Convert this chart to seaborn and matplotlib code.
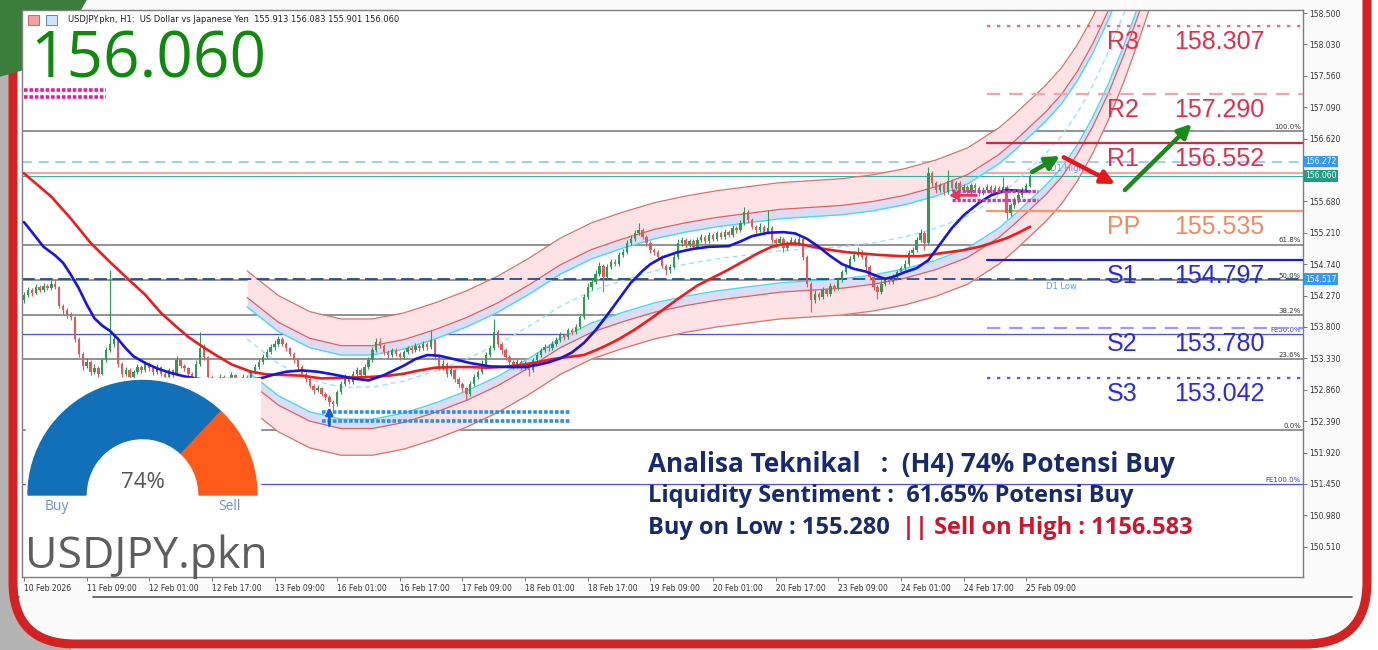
"""
USDJPY H1 - analisa teknikal
"""
import numpy as np
import seaborn as sns
import matplotlib
matplotlib.use("Agg")
import matplotlib.pyplot as plt
from matplotlib.patches import FancyBboxPatch, Wedge, Rectangle, Polygon
import matplotlib.transforms as mtransforms

# ---------------- data ----------------
first_open = 154.20
closes = [
    154.28, 154.36, 154.31, 154.40, 154.35, 154.42, 154.38, 154.45, 154.40, 154.12,
    154.05, 153.98, 153.95, 153.62, 153.40, 153.22, 153.28, 153.12, 153.18, 153.10,
    153.30, 153.45, 153.55, 153.62, 153.25, 153.10, 153.15, 153.05, 153.12, 153.20,
    153.15, 153.25, 153.18, 153.12, 153.20, 153.10, 153.05, 153.15, 153.08, 153.30,
    153.22, 153.18, 153.10, 153.05, 153.25, 153.48, 153.35, 153.05, 153.00, 152.95,
    153.05, 153.02, 152.98, 153.08, 153.00, 152.95, 153.05, 153.02, 153.12, 153.20,
    153.28, 153.35, 153.42, 153.50, 153.55, 153.62, 153.55, 153.48, 153.40, 153.30,
    153.20, 153.10, 153.02, 152.92, 152.85, 152.88, 152.80, 152.75, 152.68, 152.65,
    152.82, 152.95, 153.05, 152.98, 153.10, 153.15, 153.08, 153.20, 153.30, 153.45,
    153.58, 153.52, 153.42, 153.38, 153.45, 153.40, 153.35, 153.42, 153.48, 153.45,
    153.52, 153.48, 153.55, 153.50, 153.60, 153.35, 153.20, 153.25, 153.10, 153.15,
    153.02, 152.95, 152.88, 152.80, 152.95, 153.05, 153.12, 153.25, 153.38, 153.48,
    153.72, 153.55, 153.45, 153.35, 153.28, 153.22, 153.28, 153.20, 153.25, 153.15,
    153.30, 153.38, 153.45, 153.50, 153.48, 153.55, 153.60, 153.68, 153.65, 153.75,
    153.72, 153.80, 153.95, 154.25, 154.40, 154.48, 154.60, 154.72, 154.55, 154.70,
    154.78, 154.75, 154.88, 154.92, 155.05, 155.12, 155.20, 155.25, 155.15, 155.05,
    154.95, 154.92, 154.85, 154.72, 154.65, 154.70, 154.85, 155.05, 155.10, 155.02,
    155.08, 155.00, 155.10, 155.15, 155.08, 155.18, 155.12, 155.20, 155.15, 155.22,
    155.18, 155.28, 155.25, 155.35, 155.52, 155.40, 155.30, 155.25, 155.30, 155.22,
    155.28, 155.10, 155.05, 155.12, 154.98, 155.05, 155.10, 155.05, 155.12, 154.85,
    154.45, 154.20, 154.30, 154.25, 154.35, 154.30, 154.42, 154.38, 154.50, 154.62,
    154.70, 154.82, 154.88, 154.92, 154.85, 154.70, 154.55, 154.40, 154.32, 154.45,
    154.50, 154.48, 154.55, 154.62, 154.68, 154.75, 154.90, 154.95, 155.10, 155.20,
    155.05, 156.10, 155.95, 155.85, 155.92, 155.82, 155.98, 155.88, 155.95, 155.85,
    155.90, 155.82, 155.92, 155.88, 155.80, 155.85, 155.90, 155.82, 155.88, 155.85,
    155.90, 155.50, 155.62, 155.70, 155.78, 155.85, 155.913, 156.06,
]
highs = [
    154.33, 154.40, 154.39, 154.45, 154.43, 154.46, 154.45, 154.50, 154.52, 154.42,
    154.15, 154.08, 154.02, 153.97, 153.65, 153.43, 153.33, 153.30, 153.24, 153.21,
    153.34, 153.50, 154.65, 153.70, 153.65, 153.28, 153.20, 153.18, 153.16, 153.24,
    153.23, 153.29, 153.27, 153.20, 153.24, 153.22, 153.13, 153.19, 153.17, 153.36,
    153.33, 153.25, 153.20, 153.12, 153.30, 153.72, 153.55, 153.37, 153.08, 153.03,
    153.09, 153.08, 153.05, 153.12, 153.10, 153.03, 153.09, 153.08, 153.16, 153.25,
    153.32, 153.40, 153.47, 153.55, 153.60, 153.67, 153.65, 153.58, 153.50, 153.43,
    153.33, 153.23, 153.13, 153.05, 152.95, 152.93, 152.90, 152.83, 152.78, 152.71,
    152.86, 152.99, 153.10, 153.08, 153.14, 153.20, 153.18, 153.24, 153.35, 153.50,
    153.63, 153.64, 153.55, 153.46, 153.49, 153.48, 153.43, 153.46, 153.52, 153.51,
    153.56, 153.55, 153.59, 153.58, 153.75, 153.62, 153.38, 153.30, 153.27, 153.20,
    153.17, 153.05, 152.98, 152.90, 152.99, 153.09, 153.16, 153.30, 153.42, 153.53,
    153.92, 153.75, 153.58, 153.48, 153.38, 153.31, 153.32, 153.30, 153.29, 153.27,
    153.34, 153.42, 153.49, 153.55, 153.54, 153.59, 153.65, 153.72, 153.71, 153.79,
    153.78, 153.85, 154.00, 154.30, 154.46, 154.53, 154.66, 154.78, 154.75, 154.74,
    154.82, 154.82, 154.92, 154.97, 155.10, 155.17, 155.25, 155.35, 155.28, 155.18,
    155.08, 154.98, 154.95, 154.88, 154.75, 154.74, 154.89, 155.12, 155.15, 155.13,
    155.12, 155.11, 155.14, 155.19, 155.18, 155.22, 155.21, 155.24, 155.23, 155.26,
    155.25, 155.32, 155.31, 155.40, 155.60, 155.55, 155.43, 155.33, 155.35, 155.33,
    155.55, 155.31, 155.13, 155.16, 155.15, 155.09, 155.14, 155.13, 155.16, 155.14,
    154.88, 154.48, 154.35, 154.33, 154.40, 154.38, 154.46, 154.45, 154.55, 154.66,
    154.75, 154.86, 154.93, 155.00, 154.95, 154.88, 154.73, 154.58, 154.43, 154.50,
    154.55, 154.54, 154.59, 154.66, 154.72, 154.80, 154.95, 155.00, 155.15, 155.26,
    155.23, 156.20, 156.13, 155.98, 155.96, 155.95, 156.15, 156.01, 155.99, 155.98,
    155.94, 155.93, 155.96, 155.95, 155.91, 155.89, 155.94, 155.93, 155.92, 155.91,
    156.05, 155.93, 155.66, 155.75, 155.82, 155.89, 155.95, 156.083,
]
lows = [
    154.16, 154.25, 154.27, 154.29, 154.32, 154.33, 154.35, 154.36, 154.37, 154.08,
    154.00, 153.94, 153.90, 153.58, 153.35, 153.16, 153.18, 153.08, 153.09, 153.05,
    153.08, 153.27, 153.42, 153.50, 153.20, 153.05, 153.06, 153.01, 153.02, 153.10,
    153.11, 153.13, 153.14, 153.08, 153.10, 153.06, 153.01, 153.03, 153.04, 153.06,
    153.18, 153.14, 153.06, 153.00, 153.03, 153.22, 153.30, 153.00, 152.95, 152.90,
    152.92, 152.98, 152.94, 152.96, 152.96, 152.90, 152.92, 152.98, 153.00, 153.10,
    153.17, 153.25, 153.32, 153.40, 153.46, 153.52, 153.51, 153.44, 153.36, 153.26,
    153.16, 153.06, 152.98, 152.88, 152.80, 152.82, 152.76, 152.70, 152.62, 152.55,
    152.62, 152.80, 152.92, 152.94, 152.95, 153.07, 153.04, 153.05, 153.17, 153.27,
    153.42, 153.48, 153.38, 153.33, 153.35, 153.36, 153.31, 153.32, 153.39, 153.41,
    153.42, 153.44, 153.45, 153.46, 153.47, 153.30, 153.15, 153.16, 153.05, 153.06,
    152.97, 152.90, 152.83, 152.71, 152.77, 152.92, 153.02, 153.10, 153.22, 153.35,
    153.45, 153.50, 153.40, 153.30, 153.23, 153.17, 153.18, 153.15, 153.16, 153.07,
    153.12, 153.27, 153.35, 153.42, 153.44, 153.45, 153.52, 153.57, 153.61, 153.62,
    153.68, 153.69, 153.77, 153.92, 154.22, 154.36, 154.45, 154.57, 154.32, 154.52,
    154.67, 154.71, 154.72, 154.85, 154.89, 155.02, 155.09, 155.17, 155.11, 155.01,
    154.91, 154.88, 154.81, 154.68, 154.58, 154.61, 154.67, 154.82, 155.01, 154.98,
    154.99, 154.96, 154.97, 155.07, 155.04, 155.05, 155.08, 155.09, 155.11, 155.12,
    155.14, 155.15, 155.21, 155.22, 155.32, 155.36, 155.26, 155.20, 155.22, 155.18,
    155.19, 155.05, 155.00, 155.02, 154.92, 154.95, 155.02, 155.01, 155.02, 154.80,
    154.40, 154.02, 154.16, 154.20, 154.22, 154.26, 154.27, 154.34, 154.35, 154.47,
    154.59, 154.67, 154.79, 154.85, 154.81, 154.66, 154.50, 154.35, 154.22, 154.29,
    154.42, 154.44, 154.45, 154.52, 154.59, 154.65, 154.72, 154.86, 154.92, 155.07,
    154.95, 155.02, 155.90, 155.80, 155.82, 155.78, 155.79, 155.84, 155.85, 155.81,
    155.82, 155.78, 155.79, 155.84, 155.76, 155.77, 155.82, 155.78, 155.79, 155.81,
    155.82, 155.42, 155.46, 155.58, 155.66, 155.75, 155.82, 155.901,
]

# moving averages
ma_fast_idx = [0, 3, 5, 8, 10, 12, 14, 16, 18, 20, 22, 24, 26, 28, 31, 34, 37, 41, 45, 49,
               53, 57, 61, 64, 67, 71, 75, 79, 84, 88, 92, 97, 100, 103, 106, 109, 114, 119,
               124, 128, 131, 134, 137, 140, 143, 146, 149, 152, 155, 158, 160, 163, 167, 171,
               175, 180, 183, 186, 190, 194, 197, 200, 203, 206, 209, 212, 215, 218, 220, 222,
               225, 228, 231, 234, 237, 240, 244, 247, 251, 254, 257]
ma_fast = [155.37, 155.15, 155.00, 154.87, 154.76, 154.58, 154.38, 154.14, 153.93, 153.82,
           153.74, 153.62, 153.48, 153.36, 153.26, 153.18, 153.12, 153.06, 153.02, 152.99,
           152.99, 153.00, 153.04, 153.09, 153.13, 153.15, 153.13, 153.09, 153.03, 153.00,
           153.08, 153.22, 153.32, 153.38, 153.37, 153.33, 153.26, 153.21, 153.20, 153.20,
           153.23, 153.27, 153.33, 153.42, 153.56, 153.75, 153.98, 154.22, 154.46, 154.64,
           154.74, 154.84, 154.92, 154.97, 155.00, 155.01, 155.08, 155.16, 155.21, 155.22,
           155.20, 155.12, 155.00, 154.86, 154.74, 154.67, 154.63, 154.56, 154.52, 154.55,
           154.62, 154.68, 154.80, 155.04, 155.28, 155.47, 155.66, 155.77, 155.85, 155.84,
           155.83]
ma_slow_idx = [0, 4, 7, 12, 17, 22, 26, 31, 35, 39, 42, 46, 49, 53, 58, 62, 67, 71, 76, 82,
               88, 93, 97, 101, 105, 110, 114, 118, 122, 127, 131, 135, 139, 143, 146, 149,
               152, 156, 160, 164, 168, 172, 176, 180, 184, 188, 191, 194, 197, 200, 204, 210,
               218, 224, 229, 235, 240, 244, 248, 251, 254, 257]
ma_slow = [156.10, 155.90, 155.75, 155.42, 155.06, 154.77, 154.55, 154.28, 154.01, 153.80,
           153.65, 153.49, 153.38, 153.24, 153.13, 153.09, 153.08, 153.07, 153.03, 153.04,
           153.05, 153.07, 153.10, 153.15, 153.19, 153.20, 153.20, 153.19, 153.20, 153.23,
           153.27, 153.32, 153.35, 153.38, 153.45, 153.53, 153.62, 153.76, 153.92, 154.09,
           154.26, 154.42, 154.54, 154.66, 154.79, 154.92, 155.00, 155.04, 155.05, 155.02,
           154.97, 154.92, 154.88, 154.86, 154.86, 154.91, 154.95, 155.00, 155.07, 155.13,
           155.21, 155.30]

# regression channel
ch_idx = [57, 65, 73, 81, 89, 97, 105, 113, 121, 129, 137, 145, 153, 161, 169, 177, 185, 193,
          201, 209, 217, 225, 233, 241, 249, 253, 257, 261, 265, 269, 273, 277, 281, 285, 289]
ch_mid = [153.62, 153.25, 153.01, 152.90, 152.90, 152.99, 153.14, 153.32, 153.54, 153.81,
          154.11, 154.34, 154.50, 154.64, 154.74, 154.82, 154.88, 154.94, 154.97, 155.00,
          155.06, 155.15, 155.28, 155.46, 155.76, 155.96, 156.18, 156.40, 156.66, 157.00,
          157.42, 157.92, 158.50, 159.15, 159.85]
ch_width = [0.48, 0.62, 1.02]   # cyan, inner red, outer red

# pivots
pivot_names = ["R3", "R2", "R1", "PP", "S1", "S2", "S3"]
pivot_values = [158.307, 157.290, 156.552, 155.535, 154.797, 153.780, 153.042]

# fibo
fib_labels = ["100.0%", "61.8%", "50.0%", "38.2%", "23.6%", "0.0%"]
fib_prices = [156.73, 155.03, 154.50, 153.98, 153.32, 152.26]
fe_labels = ["FE50.0%", "FE100.0%"]
fe_prices = [153.69, 151.45]

d1_high = 156.272
d1_low = 154.517
last_price = 156.060

y_ticks = [158.500, 158.030, 157.560, 157.090, 156.620, 155.680, 155.210, 154.740, 154.270,
           153.800, 153.330, 152.860, 152.390, 151.920, 151.450, 150.980, 150.510]
x_tick_labels = ["10 Feb 2026", "11 Feb 09:00", "12 Feb 01:00", "12 Feb 17:00", "13 Feb 09:00",
                 "16 Feb 01:00", "16 Feb 17:00", "17 Feb 09:00", "18 Feb 01:00", "18 Feb 17:00",
                 "19 Feb 09:00", "20 Feb 01:00", "20 Feb 17:00", "23 Feb 09:00", "24 Feb 01:00",
                 "24 Feb 17:00", "25 Feb 09:00"]
x_tick_pos = [0, 16, 32, 48, 64, 80, 96, 112, 128, 144, 160, 176, 192, 208, 224, 240, 256]

buy_pct = 74

# ---------------- style ----------------
sns.set_style("white")
plt.rcParams["font.family"] = ["DejaVu Sans"]

fig = plt.figure(figsize=(13.78, 6.5), dpi=100)

# background (pixel coords)
bg = fig.add_axes([0, 0, 1, 1], zorder=0)
bg.set_xlim(0, 1378)
bg.set_ylim(650, 0)
bg.axis("off")
bg.add_patch(Rectangle((0, 0), 1378, 650, color="white"))
bg.add_patch(Rectangle((0, 60), 70, 590, color="#b3b3b3"))
bg.add_patch(FancyBboxPatch((13, -80), 1354, 724, boxstyle="round,pad=0,rounding_size=62",
                            fc="#fbfbfb", ec="#d42222", lw=6.5))
bg.add_patch(Polygon([(0, 0), (86, 0), (50, 62), (0, 76)], color="#3b7d3b"))
bg.plot([93, 1352], [597, 597], color="#555555", lw=1.2)
bg.plot([15, 19], [597, 597], color="#555555", lw=1.2)

# main chart
ax = fig.add_axes([22 / 1378, 73 / 650, 1281 / 1378, 567 / 650], zorder=2)
ax.set_facecolor("white")
ax.set_xlim(-0.5, 326.7)
ax.set_ylim(150.057, 158.545)
for s in ax.spines.values():
    s.set_color("#7d7d7d")
    s.set_linewidth(1.0)

x_end = 326.7

# fib lines
for p in fib_prices:
    ax.axhline(p, color="#8a8a8a", lw=1.3, zorder=1)
for lab, p in zip(fib_labels, fib_prices):
    ax.text(x_end - 0.5, p + 0.02, lab, ha="right", va="bottom", fontsize=5, color="#333333")
for p in fe_prices:
    ax.axhline(p, color="#5050ee", lw=0.9, zorder=1)
for lab, p in zip(fe_labels, fe_prices):
    ax.text(x_end - 0.5, p + 0.02, lab, ha="right", va="bottom", fontsize=5, color="#3a3ae0")

# D1 high / low, price lines
ax.axhline(d1_high, color="#8ec5f5", lw=1.2, ls=(0, (6, 4)), zorder=1)
ax.axhline(d1_low, color="#1f4e8c", lw=1.3, ls=(0, (7, 3)), zorder=1.5)
ax.axhline(last_price + 0.045, color="#f4a8a8", lw=1.6, zorder=1)
ax.axhline(last_price, color="#3ab0a0", lw=0.8, zorder=1.2)
ax.text(262, d1_high - 0.03, "D1 High", fontsize=6, color="#5aa0f0", va="top")
ax.text(261, d1_low - 0.05, "D1 Low", fontsize=6, color="#5aa0f0", va="top")

# regression channel
cx = np.array(ch_idx)
cm = np.array(ch_mid)
w_c, w_i, w_o = ch_width
ax.fill_between(cx, cm + w_i, cm + w_o, color="#fde2e6", lw=0, zorder=1.1)
ax.fill_between(cx, cm - w_o, cm - w_i, color="#fde2e6", lw=0, zorder=1.1)
ax.fill_between(cx, cm + w_c, cm + w_i, color="#dcdcf4", lw=0, zorder=1.1)
ax.fill_between(cx, cm - w_i, cm - w_c, color="#dcdcf4", lw=0, zorder=1.1)
for sign in (1, -1):
    sns.lineplot(x=cx, y=cm + sign * w_o, ax=ax, color="#d9736c", lw=0.9, zorder=1.3)
    sns.lineplot(x=cx, y=cm + sign * w_i, ax=ax, color="#e0605e", lw=0.9, zorder=1.3)
    sns.lineplot(x=cx, y=cm + sign * w_c, ax=ax, color="#45dcef", lw=1.0, zorder=1.3)
sns.lineplot(x=cx, y=cm, ax=ax, color="#8fe6f5", lw=0.9, zorder=1.3, linestyle=(0, (4, 3)))

# candles
o = np.array([first_open] + closes[:-1])
c = np.array(closes)
h = np.array(highs)
l = np.array(lows)
idx = np.arange(len(c))
col = np.where(c >= o, "#2e9a52", "#e25a5a")
ax.vlines(idx, l, h, colors=col, lw=0.8, zorder=4)
ax.bar(idx, np.maximum(np.abs(c - o), 0.012), bottom=np.minimum(o, c), width=0.6,
       color=col, lw=0, zorder=5)

# moving averages
sns.lineplot(x=ma_slow_idx, y=ma_slow, ax=ax, color="#ee1c1c", lw=1.9, zorder=6)
sns.lineplot(x=ma_fast_idx, y=ma_fast, ax=ax, color="#1515e6", lw=1.9, zorder=6)

# pivot lines + labels
piv_line_col = ["#f06a86", "#f4a3b3", "#e0203c", "#ff9466", "#1a1ae0", "#9c9cf2", "#5a5af0"]
piv_line_ls = [(0, (1.5, 3)), (0, (6, 4)), "-", "-", "-", (0, (6, 4)), (0, (1.5, 3))]
piv_text_col = ["#e0304c", "#e0304c", "#e0304c", "#f28a60", "#2a2ae6", "#2a2ae6", "#2a2ae6"]
for name, v, lc, ls, tc in zip(pivot_names, pivot_values, piv_line_col, piv_line_ls, piv_text_col):
    ax.plot([246, x_end], [v, v], color=lc, ls=ls, lw=1.6, zorder=3)
    ax.text(276.6, v - 0.24, name, fontsize=18, color=tc, va="center", ha="left",
            family="Liberation Sans", zorder=7)
    ax.text(293.7, v - 0.24, f"{v:.3f}", fontsize=18, color=tc, va="center", ha="left",
            family="Liberation Sans", zorder=7)

# markers / arrows
ax.plot([0, 21], [157.35, 157.35], color="#e0209a", lw=2.6, ls=(0, (1, 0.5)), zorder=3)
ax.plot([0, 21], [157.24, 157.24], color="#e0209a", lw=2.6, ls=(0, (1, 0.5)), zorder=3)
ax.plot([76, 139.5], [152.53, 152.53], color="#2a90f0", lw=2.6, ls=(0, (1, 0.5)), zorder=3)
ax.plot([76, 139.5], [152.39, 152.39], color="#2a90f0", lw=2.6, ls=(0, (1, 0.5)), zorder=3)
ax.annotate("", xy=(78, 152.64), xytext=(78, 152.28),
            arrowprops=dict(arrowstyle="-|>", color="#1060d0", lw=2, mutation_scale=10), zorder=7)
ax.plot([237, 259], [155.83, 155.83], color="#c040a8", lw=2.4, ls=(0, (1, 0.5)), zorder=7)
ax.plot([237, 259], [155.70, 155.70], color="#c040a8", lw=2.4, ls=(0, (1, 0.5)), zorder=7)
ax.annotate("", xy=(235.5, 155.77), xytext=(244, 155.77),
            arrowprops=dict(arrowstyle="-|>", color="#f03050", lw=2, mutation_scale=12), zorder=8)

arrows = [((257.5, 156.12), (264.6, 156.36), "#1a8a1a"),
          ((265.6, 156.34), (278.7, 155.94), "#e81818"),
          ((281.2, 155.85), (298.3, 156.84), "#1a8a1a")]
for (x0, y0), (x1, y1), ac in arrows:
    ax.annotate("", xy=(x1, y1), xytext=(x0, y0),
                arrowprops=dict(arrowstyle="-|>", color=ac, lw=3.2, mutation_scale=20,
                                shrinkA=0, shrinkB=0), zorder=8)

# axes ticks
ax.yaxis.tick_right()
ax.set_yticks(y_ticks)
ax.set_yticklabels([f"{t:.3f}" for t in y_ticks], fontsize=5.5, color="#333333")
ax.tick_params(axis="y", right=True, left=False, length=3, width=0.7, color="#777777", pad=1.5)
ax.set_xticks(x_tick_pos)
ax.set_xticklabels(x_tick_labels, fontsize=5.5, color="#333333", ha="left")
ax.tick_params(axis="x", bottom=True, length=3, width=0.7, color="#777777", pad=2)
ax.set_xlabel("")
ax.set_ylabel("")

# price boxes on right axis
trans = mtransforms.blended_transform_factory(ax.transAxes, ax.transData)
for val, fc in [(d1_high, "#3399ff"), (last_price, "#1f9e84"), (d1_low, "#3399ff")]:
    ax.text(1.002, val, f"{val:.3f}", transform=trans, fontsize=5.5, color="white",
            va="center", ha="left", clip_on=False, zorder=9,
            bbox=dict(boxstyle="square,pad=0.15", fc=fc, ec="none"))

# overlay (pixel coords)
ov = fig.add_axes([0, 0, 1, 1], zorder=3)
ov.set_xlim(0, 1378)
ov.set_ylim(650, 0)
ov.axis("off")
ov.patch.set_alpha(0)

ov.text(30, 77, f"{last_price:.3f}", fontsize=46, color="#0f8a0f", family="Open Sans",
        va="baseline", ha="left")
ov.text(68, 20, "USDJPY.pkn, H1:  US Dollar vs Japanese Yen  155.913 156.083 155.901 156.060",
        fontsize=6, color="#222222", va="center", ha="left")
ov.add_patch(Rectangle((28, 15), 11, 10, fc="#f2a0a0", ec="#d05050", lw=0.6))
ov.add_patch(Rectangle((46, 15), 11, 10, fc="#cfe3ff", ec="#3a7ad0", lw=0.6))

# gauge
ov.add_patch(Rectangle((26, 378), 234, 146, color="white", zorder=1))
g_cx, g_cy, r_out, r_in = 142.5, 495, 114.5, 56.5
split = 180 + 180 * buy_pct / 100
ov.add_patch(Wedge((g_cx, g_cy), r_out, 180, split, width=r_out - r_in, color="#1170b8", zorder=2))
ov.add_patch(Wedge((g_cx, g_cy), r_out, split, 360, width=r_out - r_in, color="#ff5a1a", zorder=2))
ov.text(g_cx, 482, f"{buy_pct}%", fontsize=16, color="#555555", ha="center", va="center",
        family="Open Sans", zorder=3)
ov.text(57, 506, "Buy", fontsize=10, color="#6f8fd0", ha="center", va="center",
        family="Open Sans", zorder=3)
ov.text(229, 506, "Sell", fontsize=10, color="#6f8fd0", ha="center", va="center",
        family="Open Sans", zorder=3)
ov.text(25, 568, "USDJPY.pkn", fontsize=32, color="#5e5e5e", family="Open Sans",
        va="baseline", ha="left", zorder=3)

# text block
navy = "#172a6e"
ov.text(648, 465, "Analisa Teknikal   :  (H4) 74% Potensi Buy", fontsize=18.8, color=navy,
        weight="bold", family="Open Sans", va="center", ha="left")
ov.text(648, 496, "Liquidity Sentiment :  61.65% Potensi Buy", fontsize=17, color=navy,
        weight="bold", family="Open Sans", va="center", ha="left")
t3 = ov.text(648, 528, "Buy on Low : 155.280", fontsize=17, color=navy,
             weight="bold", family="Open Sans", va="center", ha="left")
fig.canvas.draw()
bb = t3.get_window_extent()
x3 = ov.transData.inverted().transform((bb.x1, bb.y0))[0]
ov.text(x3 + 12, 528, "|| Sell on High : 1156.583", fontsize=17, color="#d0142c",
        weight="bold", family="Open Sans", va="center", ha="left")

fig.savefig("out.png", dpi=100)
